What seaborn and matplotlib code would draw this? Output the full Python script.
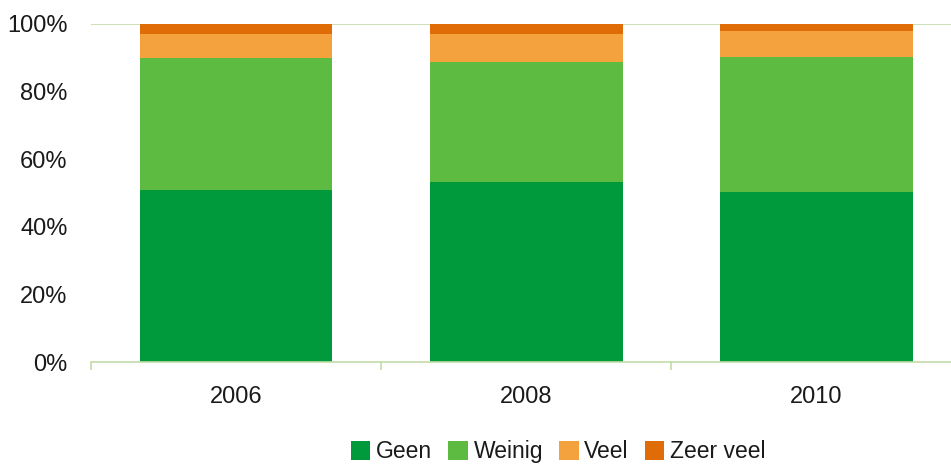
import pandas as pd
import seaborn as sns
import matplotlib.pyplot as plt
from matplotlib.patches import Patch
from matplotlib.ticker import PercentFormatter, FixedLocator

sns.set_theme(style='white')
plt.rcParams['font.family'] = ['Liberation Sans', 'DejaVu Sans']

# data (percentages)
years = ['2006', '2008', '2010']
categories = ['Geen', 'Weinig', 'Veel', 'Zeer veel']
geen = [51.0, 53.2, 50.3]
weinig = [38.9, 35.4, 39.8]
veel = [7.1, 8.4, 7.7]
zeer_veel = [3.0, 3.0, 2.2]
colors = ['#009a3d', '#5dbb41', '#f4a23e', '#e06c08']
grid_color = '#c2dca8'


def main():
    df = pd.DataFrame({'Year': years, 'Geen': geen, 'Weinig': weinig,
                       'Veel': veel, 'Zeer veel': zeer_veel})
    cum = df[categories].cumsum(axis=1)

    fig = plt.figure(figsize=(9.51, 4.65), dpi=100)
    ax = fig.add_axes([0.0957, 0.2215, 0.915, 0.727])

    # draw cumulative totals from top segment down so they stack
    for cat, color in zip(reversed(categories), reversed(colors)):
        sns.barplot(x=df['Year'], y=cum[cat], color=color, width=0.665,
                    saturation=1, ax=ax, linewidth=0)

    ax.set_xlim(-0.5, 2.5)
    ax.set_ylim(0, 100)
    ax.set_yticks([0, 20, 40, 60, 80, 100])
    ax.yaxis.set_major_formatter(PercentFormatter(decimals=0))
    ax.set_xlabel('')
    ax.set_ylabel('')
    ax.axhline(100, color=grid_color, linewidth=1.2, zorder=0)

    for side in ['top', 'right', 'left']:
        ax.spines[side].set_visible(False)
    ax.spines['bottom'].set_color(grid_color)
    ax.spines['bottom'].set_linewidth(1.2)

    ax.xaxis.set_minor_locator(FixedLocator([-0.5, 0.5, 1.5, 2.5]))
    ax.tick_params(axis='x', which='minor', length=6, width=1.2,
                   color=grid_color, bottom=True, direction='out')
    ax.tick_params(axis='x', which='major', length=0, labelsize=17,
                   pad=17, labelcolor='#1a1a1a')
    ax.tick_params(axis='y', length=0, labelsize=17, pad=17,
                   labelcolor='#1a1a1a')

    handles = [Patch(facecolor=c, edgecolor='none', label=lab)
               for lab, c in zip(categories, colors)]
    fig.legend(handles=handles, loc='center', ncol=4, frameon=False,
               bbox_to_anchor=(0.587, 0.028), fontsize=16.5,
               handlelength=0.85, handleheight=0.85, handletextpad=0.25,
               columnspacing=0.7, labelcolor='#1a1a1a')

    fig.savefig('out.png', dpi=100)


if __name__ == '__main__':
    main()
